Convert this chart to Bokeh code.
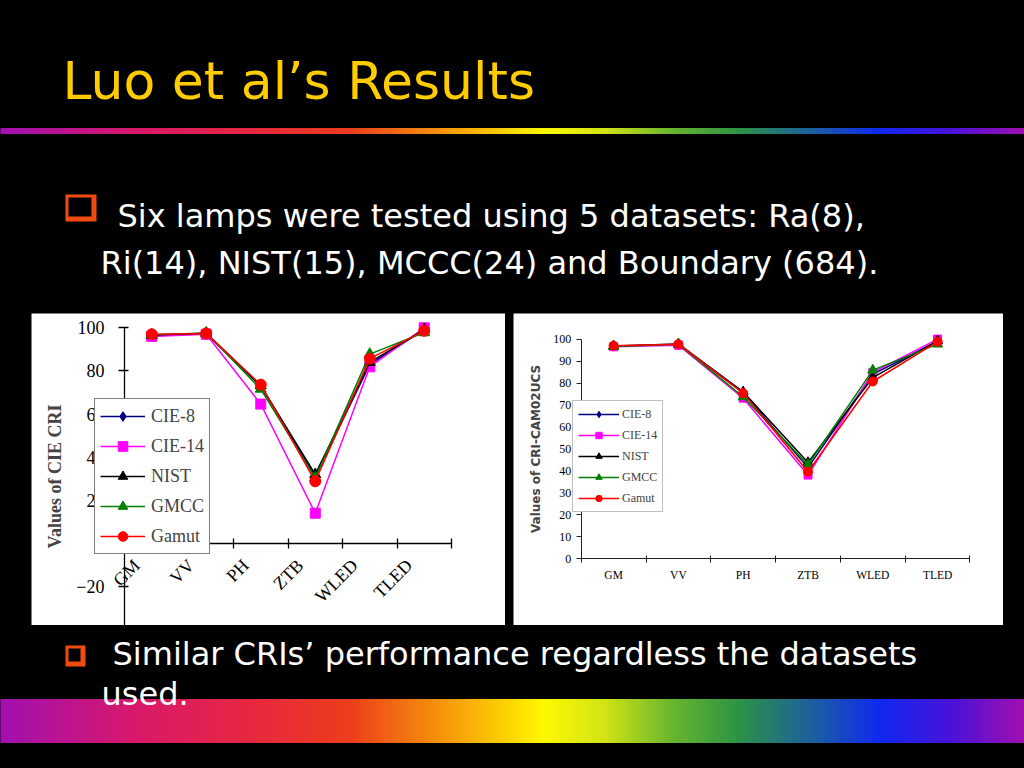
import numpy as np
from math import pi
from bokeh.plotting import figure
from bokeh.layouts import column, row
from bokeh.models import Range1d, FixedTicker
from bokeh.core.properties import value
from bokeh.embed import file_html
from bokeh.resources import INLINE

# ---------------- data ----------------
lamps = ["GM", "VV", "PH", "ZTB", "WLED", "TLED"]
series = ["CIE-8", "CIE-14", "NIST", "GMCC", "Gamut"]

# left chart: Values of CIE CRI
cie_cie8 = [96.5, 97.3, 73.0, 31.0, 83.0, 99.0]
cie_cie14 = [96.0, 97.0, 64.6, 14.0, 81.9, 100.0]
cie_nist = [96.6, 97.5, 73.2, 32.0, 84.0, 99.2]
cie_gmcc = [96.8, 97.6, 71.6, 30.4, 87.8, 97.8]
cie_gamut = [97.0, 97.4, 73.6, 28.8, 85.7, 98.6]

# right chart: Values of CRI-CAM02UCS
cam_cie8 = [96.8, 97.5, 75.5, 41.5, 84.0, 99.0]
cam_cie14 = [96.5, 97.2, 73.1, 38.1, 84.8, 100.0]
cam_nist = [96.9, 97.8, 76.0, 43.8, 82.5, 99.2]
cam_gmcc = [96.6, 97.6, 73.7, 42.8, 85.9, 97.7]
cam_gamut = [97.0, 97.7, 75.4, 39.6, 80.7, 98.8]

cie_ticks = [100, 80, 60, 40, 20, 0, -20, -40]
cam_ticks = [0, 10, 20, 30, 40, 50, 60, 70, 80, 90, 100]

title = "Luo et al\u2019s Results"
bullet1 = ["Six lamps were tested using 5 datasets: Ra(8),",
           "Ri(14), NIST(15), MCCC(24) and Boundary (684)."]
bullet2 = ["Similar CRIs\u2019 performance regardless the datasets",
           "used."]

# ---------------- styles ----------------
colors = ["#000080", "#FF00FF", "#000000", "#008000", "#FF0000"]
markers = ["diamond", "square", "triangle", "triangle", "circle"]
sizes1 = [12, 10, 11, 11, 11]
sizes2 = [10, 8, 10, 10, 9]
SERIF = "Liberation Serif"
SANS = "DejaVu Sans"

rb_pos = [0.0, 0.13, 0.25, 0.34, 0.42, 0.485, 0.53, 0.59, 0.655, 0.72, 0.80, 0.86, 0.93, 1.0]
rb_col = ["#A010B0", "#D8186C", "#E8283E", "#EC3C1C", "#F5890C", "#FBC804", "#FFF700",
          "#D2E414", "#6AB62C", "#2C9444", "#1A5AA6", "#1028F0", "#4A12D8", "#A010B0"]


def hex2rgb(h):
    return [int(h[i:i + 2], 16) for i in (1, 3, 5)]


def rainbow(fig, y0, y1, n=256):
    rgb = np.array([hex2rgb(c) for c in rb_col], dtype=float)
    edges = np.linspace(0, 1024, n + 1)
    mids = (edges[:-1] + edges[1:]) / 2 / 1024
    cols = []
    for m in mids:
        r, g, b = (int(round(np.interp(m, rb_pos, rgb[:, k]))) for k in range(3))
        cols.append("#%02x%02x%02x" % (r, g, b))
    fig.quad(left=edges[:-1], right=edges[1:], top=[y0] * n, bottom=[y1] * n,
             fill_color=cols, line_color=cols, line_width=1)


def slide_fig(w, h, x0, x1, y0, y1):
    f = figure(width=w, height=h, x_range=Range1d(x0, x1), y_range=Range1d(y1, y0),
               x_axis_location=None, y_axis_location=None, min_border=0,
               background_fill_color="black", border_fill_color="black",
               outline_line_color=None, toolbar_location=None, output_backend="svg")
    f.grid.visible = False
    return f


def chart_fig(w, h, xr, yr):
    f = figure(width=w, height=h, x_range=Range1d(*xr), y_range=Range1d(*yr), min_border=0,
               background_fill_color="white", border_fill_color="white",
               outline_line_color=None, toolbar_location=None, output_backend="svg")
    f.grid.visible = False
    return f


def bullet_box(fig, l, r, t, b, th):
    fig.quad(left=[l], right=[r], top=[t], bottom=[b], fill_color="#F04A10", line_color=None)
    fig.quad(left=[l + th], right=[r - th - 2], top=[t + th], bottom=[b - th - 2],
             fill_color="black", line_color=None)


def style_legend(lg, loc, gw, gh, lh, sp, pad, std, fs, bc, bw):
    lg.location = loc
    lg.glyph_width = gw
    lg.glyph_height = gh
    lg.label_height = lh
    lg.spacing = sp
    lg.padding = pad
    lg.margin = 0
    lg.label_standoff = std
    lg.label_text_font = SERIF
    lg.label_text_font_size = fs
    lg.border_line_color = bc
    lg.border_line_width = bw
    lg.background_fill_color = "white"
    lg.background_fill_alpha = 1.0


# ---------------- top of slide ----------------
top = slide_fig(1024, 313, 0, 1024, 0, 313)
rainbow(top, 128, 133)
top.text(x=[62], y=[80], text=[title], text_color="#FFCC00", text_font=value(SANS),
         text_font_size="52px", text_baseline="alphabetic")
bullet_box(top, 65, 96, 194, 221, 3)
top.text(x=[117, 100], y=[215, 262], text=bullet1, text_color="white", text_font=value(SANS),
         text_font_size="32px", text_baseline="alphabetic")

# ---------------- charts ----------------
n = len(lamps)
xs = [i + 0.5 for i in range(n)]
bounds = list(range(n + 1))

# left chart
c1 = chart_fig(474, 312, (-1.7064, 6.9908), (-38.08, 106.63))
xa1 = c1.xaxis[0]
xa1.fixed_location = 0
xa1.bounds = (0, n)
xa1.ticker = FixedTicker(ticks=[], minor_ticks=bounds)
xa1.major_tick_line_color = None
xa1.minor_tick_in = 5
xa1.minor_tick_out = 5
xa1.minor_tick_line_color = "black"
xa1.minor_tick_line_width = 1.3
xa1.axis_line_width = 1.3

ya = c1.yaxis[0]
ya.fixed_location = 0
ya.bounds = (-60, 100)
ya.ticker = FixedTicker(ticks=cie_ticks)
ya.axis_label = "Values of CIE CRI"
ya.axis_label_text_font = SERIF
ya.axis_label_text_font_style = "bold"
ya.axis_label_text_font_size = "18px"
ya.axis_label_standoff = 8
ya.major_label_text_font = SERIF
ya.major_label_text_font_size = "18px"
ya.major_label_text_color = "black"
ya.major_label_standoff = 14
ya.major_tick_out = 6
ya.major_tick_in = 4
ya.minor_tick_line_color = None
ya.axis_line_width = 1.3
ya.major_tick_line_width = 1.3

c1.text(x=xs, y=[0] * n, text=lamps, angle=pi / 4, text_align="right",
        text_baseline="middle", x_offset=-15, y_offset=19, text_font=value(SERIF),
        text_font_size="18px", text_color="black")

for name, vals, col, mk, sz in zip(series, [cie_cie8, cie_cie14, cie_nist, cie_gmcc, cie_gamut],
                                    colors, markers, sizes1):
    c1.line(xs, vals, line_color=col, line_width=1.5, legend_label=name)
    c1.scatter(xs, vals, marker=mk, size=sz, fill_color=col, line_color=col, legend_label=name)

style_legend(c1.legend[0], (63, 71), 45, 24, 20, 6, 5, 6, "18px", "black", 1.5)

# right chart
c2 = chart_fig(490, 312, (-1.0448, 6.517), (-30.36, 111.65))
xa = c2.xaxis[0]
xa.fixed_location = 0
xa.bounds = (0, n)
xa.ticker = FixedTicker(ticks=xs, minor_ticks=bounds)
xa.major_label_overrides = {x: nm for x, nm in zip(xs, lamps)}
xa.major_tick_in = 0
xa.major_tick_out = 0
xa.minor_tick_in = 3
xa.minor_tick_out = 4
xa.major_label_standoff = 6
xa.major_label_text_font = SERIF
xa.major_label_text_font_size = "11.5px"
xa.major_label_text_color = "black"
xa.axis_line_color = "#202020"
xa.minor_tick_line_color = "#202020"

yb = c2.yaxis[0]
yb.fixed_location = 0
yb.bounds = (0, 100)
yb.ticker = FixedTicker(ticks=cam_ticks)
yb.axis_label = "Values of CRI-CAM02UCS"
yb.axis_label_text_font = "DejaVu Sans"
yb.axis_label_text_font_style = "bold"
yb.axis_label_text_font_size = "12px"
yb.axis_label_standoff = 8
yb.major_label_text_font = SERIF
yb.major_label_text_font_size = "12px"
yb.major_label_text_color = "black"
yb.major_label_standoff = 5
yb.major_tick_out = 5
yb.major_tick_in = 0
yb.minor_tick_line_color = None
yb.axis_line_color = "#202020"
yb.major_tick_line_color = "#202020"

for name, vals, col, mk, sz in zip(series, [cam_cie8, cam_cie14, cam_nist, cam_gmcc, cam_gamut],
                                    colors, markers, sizes2):
    c2.line(xs, vals, line_color=col, line_width=1.5, legend_label=name)
    c2.scatter(xs, vals, marker=mk, size=sz, fill_color=col, line_color=col, legend_label=name)

style_legend(c2.legend[0], (59, 113), 41, 16, 16, 5, 5, 3, "12px", "#808080", 1)

pad1 = slide_fig(31, 312, 0, 1, 0, 1)
pad2 = slide_fig(8, 312, 0, 1, 0, 1)
pad3 = slide_fig(21, 312, 0, 1, 0, 1)

# ---------------- bottom of slide ----------------
bot = slide_fig(1024, 143, 0, 1024, 625, 768)
rainbow(bot, 699, 742)
bullet_box(bot, 65, 85, 645, 666, 3)
bot.text(x=[112, 101], y=[653, 693], text=bullet2, text_color="white", text_font=value(SANS),
         text_font_size="32px", text_baseline="alphabetic")

layout = column(top, row(pad1, c1, pad2, c2, pad3), bot)

html = file_html(layout, INLINE)
html = html.replace("<head>", "<head><style>html, body { background: #000000; }</style>", 1)
open("out.html", "w").write(html)
